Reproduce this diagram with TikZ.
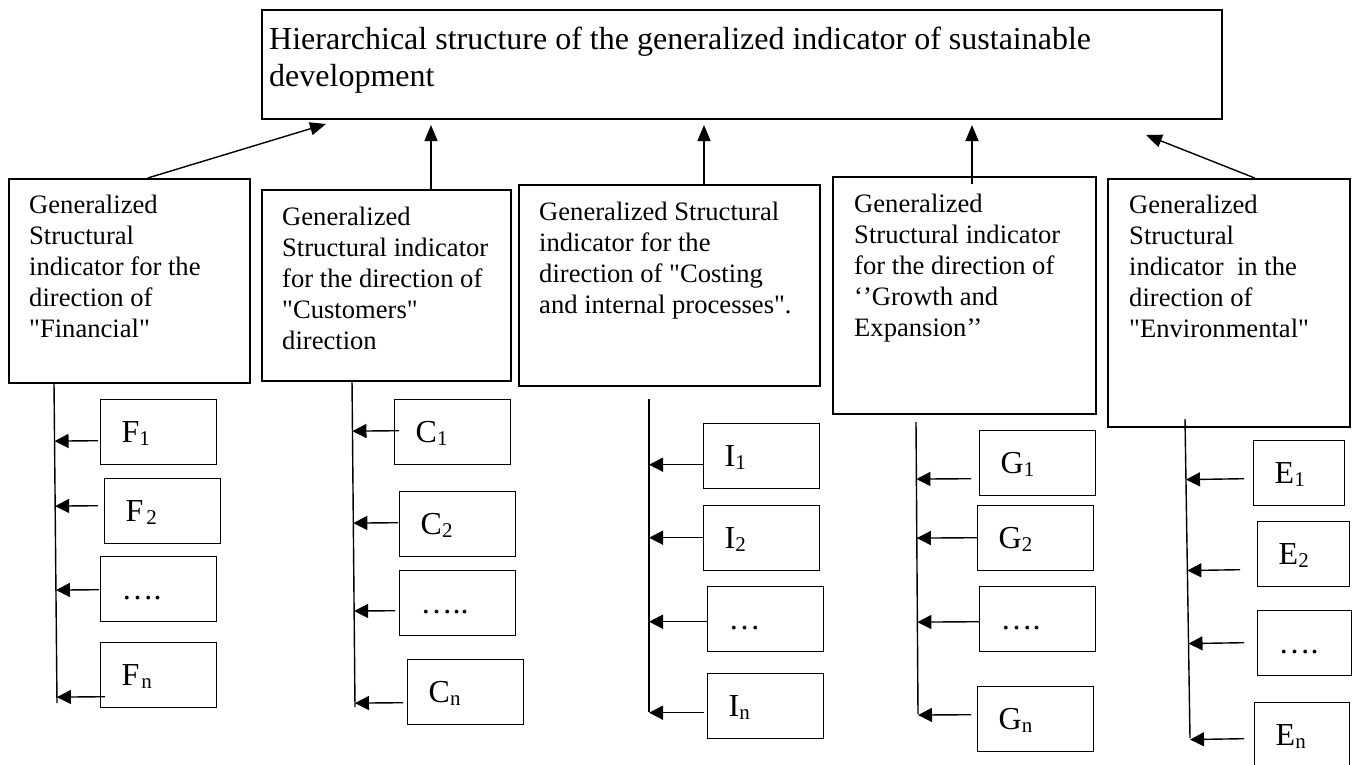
\documentclass[tikz,border=0pt]{standalone}
\usepackage{fontspec}
\setmainfont{Liberation Serif}[Ligatures=TeXOff]
\usetikzlibrary{arrows.meta,calc}
\newcommand\idx[1]{\raisebox{-2.5pt}{\fontsize{21}{21}\selectfont #1}}
\tikzset{
	panel/.style 2 args={draw,line width=1.5pt,anchor=north west,inner sep=0pt,minimum width=#1,minimum height=#2},
	paneltext/.style={anchor=north west,inner sep=0pt,align=left,font=\fontsize{26.6}{31}\selectfont},
	sub/.style={draw,line width=1.4pt,anchor=north west,inner xsep=21pt,inner ysep=0pt,text width=#1,minimum height=65pt,text height=21pt,text depth=0pt,align=left,font=\fontsize{32}{36}\selectfont},
	sub/.default=74pt,
	feed/.style={-{Triangle[length=14pt,width=14pt]},line width=1.4pt},
	rise/.style={-{Triangle[length=16pt,width=13pt]},line width=1.4pt},
	bus/.style={line width=1.4pt}
}
\begin{document}
\begin{tikzpicture}[x=1pt,y=-1pt]
	\useasboundingbox (0,0) rectangle (1354,764);

	% top box
	\node [panel={960pt}{109pt},line width=1.8pt] (goal) at (261,9) {};
	\node [anchor=north west,inner sep=0pt,align=left,font=\fontsize{32}{36.8}\selectfont] (goal-t) at (269,27) {Hierarchical structure of the generalized indicator of sustainable\\development};

	% five directions
	\node [panel={241pt}{204pt}] (fin) at (8,178) {};
	\node [paneltext] (fin-t) at (29,195) {Generalized\\Structural\\indicator for the\\direction of\\"Financial"};
	\node [panel={249pt}{191pt}] (cus) at (261,189) {};
	\node [paneltext] (cus-t) at (282,207) {Generalized\\Structural indicator\\for the direction of\\"Customers"\\direction};
	\node [panel={301pt}{201pt}] (cost) at (518,184) {};
	\node [paneltext] (cost-t) at (539,202) {Generalized Structural\\indicator for the\\direction of "Costing\\and internal processes".};
	\node [panel={263pt}{237pt}] (grow) at (832,176) {};
	\node [paneltext] (grow-t) at (854,194) {Generalized\\Structural indicator\\for the direction of\\‘’Growth and\\Expansion’’};
	\node [panel={242pt}{248pt}] (env) at (1107,178) {};
	\node [paneltext] (env-t) at (1129,195) {Generalized\\Structural\\indicator\ \ in the\\direction of\\"Environmental"};

	% arrows to the top box
	\coordinate (fin-tip) at (326,124);
	\coordinate (cus-tip) at (431,125);
	\coordinate (cost-tip) at (704,125);
	\coordinate (grow-tip) at (972,125);
	\coordinate (env-tip) at (1146,135);
	\draw [rise] ([xshift=18.5pt]fin.north) -- (fin-tip);
	\draw [rise] (cus-tip |- cus.north) -- (cus-tip);
	\draw [rise] (cost-tip |- cost.north) -- (cost-tip);
	\draw [rise] ([yshift=-8pt]grow-tip |- grow.north) -- (grow-tip);
	\draw [rise] ([xshift=26pt]env.north) -- (env-tip);

	% partial indicators
	\node [sub] (F1) at (100,399) {F\idx{1}};
	\node [sub] (F2) at (104,478) {F\hspace{3pt}\idx{2}};
	\node [sub] (F3) at (100,556) {….};
	\node [sub] (Fn) at (100,642) {F\hspace{2pt}\idx{n}};
	\node [sub] (C1) at (394,399) {C\idx{1}};
	\node [sub] (C2) at (399,491) {C\idx{2}};
	\node [sub] (C3) at (399,570) {…..};
	\node [sub] (Cn) at (407,659) {C\idx{n}};
	\node [sub] (I1) at (703,423) {I\idx{1}};
	\node [sub] (I2) at (703,505) {I\idx{2}};
	\node [sub] (I3) at (707,586) {…};
	\node [sub] (In) at (707,673) {I\idx{n}};
	\node [sub] (G1) at (979,430) {G\idx{1}};
	\node [sub] (G2) at (977,505) {G\idx{2}};
	\node [sub] (G3) at (979,586) {….};
	\node [sub] (Gn) at (977,686) {G\idx{n}};
	\node [sub=49pt] (E1) at (1253,440) {E\idx{1}};
	\node [sub=50pt] (E2) at (1257,521) {E\idx{2}};
	\node [sub=52pt] (E3) at (1257,610) {….};
	\node [sub=53pt] (En) at (1254,702) {E\idx{n}};

	% collecting lines
	\coordinate (F-top) at (54,382);
	\coordinate (F-bot) at (57,703);
	\coordinate (C-top) at (352,380);
	\coordinate (C-bot) at (355,707);
	\coordinate (I-top) at (649,399);
	\coordinate (I-bot) at (649,712);
	\coordinate (G-top) at (916,422);
	\coordinate (G-bot) at (918,714);
	\coordinate (E-top) at (1185,419);
	\coordinate (E-bot) at (1190,738);
	\foreach \b in {F,C,I,G,E}
		\draw [bus] (\b-top) -- (\b-bot);

	\foreach \n/\dx/\dy/\b in {F1/-2/8.5/F, F2/-6/-5.5/F, F3/-1/0.5/F, Fn/5/21.5/F,
		C1/5/-1.5/C, C2/-1/-1.5/C, C3/-4/7.5/C, Cn/-4/10.5/C,
		I1/0/8.5/I, I2/0/-0.5/I, I3/0/2.5/I, In/-3/6.5/I,
		G1/-8/15.5/G, G2/0/-0.5/G, G3/0/2.5/G, Gn/-6/-4.5/G,
		E1/-9/5.5/E, E2/-17/15.5/E, E3/-13/-0.5/E, En/-10/3.5/E}
	{
		\path ([shift={(\dx,\dy)}]\n.west) coordinate (s);
		\draw [feed] (s) -- ($(\b-top)!(s)!(\b-bot)$);
	}
\end{tikzpicture}
\end{document}
